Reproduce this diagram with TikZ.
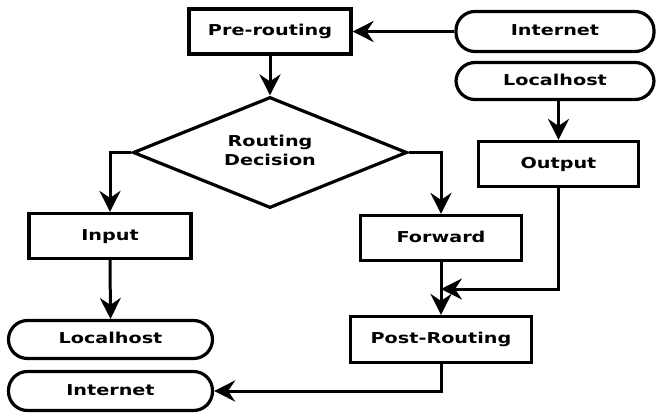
\documentclass[tikz,border=0pt]{standalone}
\usepackage{fontspec}
\newfontfamily\lblfont{DejaVu Sans Bold}[FakeStretch=1.28]
\usetikzlibrary{arrows.meta,shapes.geometric}
\tikzset{
  base/.style={draw=black, line width=3.2pt, font=\lblfont\fontsize{15}{19}\selectfont, inner sep=0pt},
  onetext/.style={text height=10.9pt, text depth=2pt},
  procbox/.style={base, onetext, rectangle, minimum width=#1, minimum height=45pt},
  term/.style={base, onetext, rectangle, rounded corners=19pt, minimum width=#1},
  decision/.style={base, diamond, aspect=2.47, minimum width=274pt, minimum height=111pt},
  conn/.style={line width=3pt, -{Stealth[length=21pt,width=21pt,inset=7pt]}}
}
\begin{document}
\begin{tikzpicture}[x=1pt,y=-1pt]
\useasboundingbox (0,0) rectangle (657,413);
\node[procbox=162pt] (pre) at (270,31.5) {Pre-routing};
\node[term=198pt, minimum height=40pt] (inetT) at (555,31.5) {Internet};
\node[term=198pt, minimum height=37pt] (lhT) at (555,81) {Localhost};
\node[procbox=160pt] (out) at (558.5,164) {Output};
\node[decision] (dec) at (270,152.5) {\raisebox{4pt}{\begin{tabular}{@{}c@{}}Routing\\Decision\end{tabular}}};
\node[procbox=162pt] (inp) at (110,236) {Input};
\node[procbox=161pt] (fwd) at (441,238) {Forward};
\node[procbox=181pt, minimum height=46pt] (post) at (441,339.5) {Post-Routing};
\node[term=204pt, minimum height=38pt] (lhB) at (110.5,339.5) {Localhost};
\node[term=204pt, minimum height=39pt] (inetB) at (110.5,391) {Internet};
\coordinate (j) at (441,289);

\draw[conn] (inetT.west) -- (pre.east);
\draw[conn] (pre.south) -- (dec.north);
\draw[conn] (dec.west) -| (inp.north);
\draw[conn] (dec.east) -| (fwd.north);
\draw[conn] (lhT.south -| out.north) -- (out.north);
\draw[conn] (inp.south) -- (lhB.north);
\draw[conn] (fwd.south) -- (post.north);
\draw[conn] (out.south) |- (j);
\draw[conn] (post.south) |- (inetB.east);
\end{tikzpicture}
\end{document}
